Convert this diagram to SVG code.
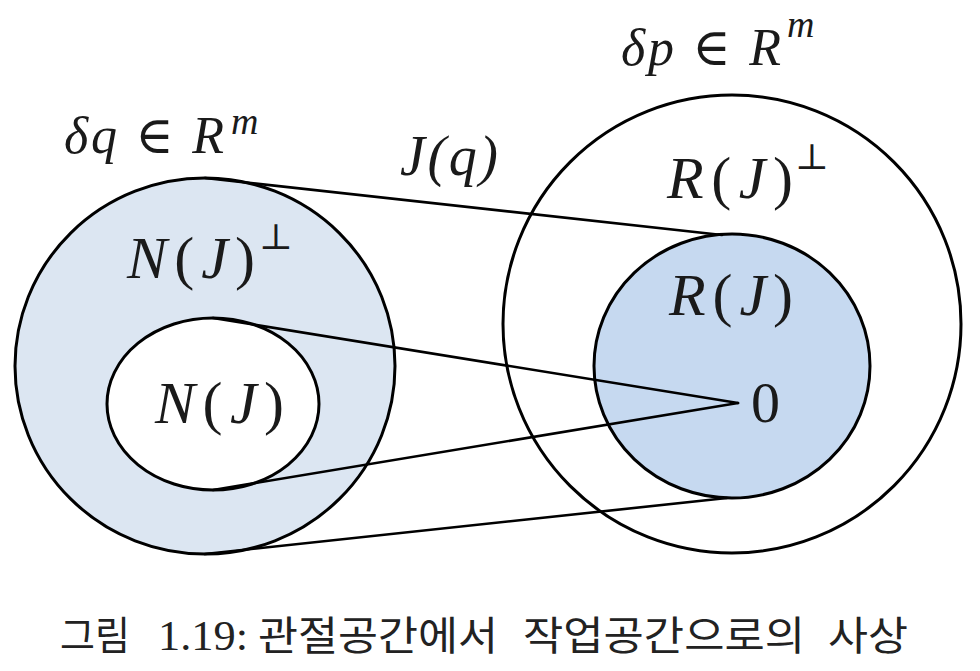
<svg xmlns="http://www.w3.org/2000/svg" width="980" height="671" viewBox="0 0 980 671">
<style>
.shape{stroke:#000;stroke-width:3}
.ln{stroke:#000;stroke-width:2.6;fill:none;stroke-linecap:round}
.m{font-family:"Liberation Serif","DejaVu Serif",serif;fill:#1a1a1a}
.i{font-style:italic}
.perp{font-family:"DejaVu Serif",serif;font-size:36px;fill:#1a1a1a}
.cap{font-family:"Noto Sans CJK KR","Noto Sans",sans-serif;font-size:40px;fill:#222}
.capn{font-family:"Liberation Serif",serif;font-size:42px;fill:#222}
</style>
<rect width="980" height="671" fill="#fff"/>
<g id="joint-space">
  <ellipse class="shape" cx="205" cy="366" rx="190" ry="188" fill="#dce6f2"/>
  <text class="m" font-size="52" x="64" y="153" textLength="160" lengthAdjust="spacing"><tspan class="i">δq</tspan> ∈ <tspan class="i">R</tspan></text>
  <text class="m i" font-size="38" x="231" y="134">m</text>
  <text class="m i" font-size="60" x="127" y="278" textLength="128" lengthAdjust="spacing">N<tspan font-style="normal">(</tspan>J<tspan font-style="normal">)</tspan></text>
  <text class="perp" x="259" y="249">⊥</text>
</g>
<g id="null-space">
  <ellipse class="shape" cx="213" cy="404" rx="106" ry="86" fill="#fff"/>
  <text class="m i" font-size="60" x="155" y="423" textLength="129" lengthAdjust="spacing">N<tspan font-style="normal">(</tspan>J<tspan font-style="normal">)</tspan></text>
</g>
<g id="task-space">
  <ellipse class="shape" cx="732" cy="324" rx="229" ry="229" fill="#fff"/>
  <text class="m" font-size="52" x="621" y="65" textLength="160" lengthAdjust="spacing"><tspan class="i">δp</tspan> ∈ <tspan class="i">R</tspan></text>
  <text class="m i" font-size="38" x="787" y="37">m</text>
  <text class="m i" font-size="60" x="667" y="198" textLength="126" lengthAdjust="spacing">R<tspan font-style="normal">(</tspan>J<tspan font-style="normal">)</tspan></text>
  <text class="perp" x="795" y="169">⊥</text>
</g>
<g id="range-space">
  <ellipse class="shape" cx="732" cy="366" rx="138" ry="132" fill="#c6d9f0"/>
  <text class="m i" font-size="60" x="669" y="315" textLength="124" lengthAdjust="spacing">R<tspan font-style="normal">(</tspan>J<tspan font-style="normal">)</tspan></text>
  <text class="m" font-size="58" x="751" y="422">0</text>
</g>
<g id="connectors">
  <line class="ln" x1="205" y1="178" x2="722" y2="235"/>
  <line class="ln" x1="205" y1="554" x2="727" y2="498"/>
  <line class="ln" x1="213" y1="318" x2="738" y2="403"/>
  <line class="ln" x1="213" y1="490" x2="738" y2="403"/>
</g>
<g id="map-label">
  <text class="m i" font-size="56" x="400" y="175" textLength="98" lengthAdjust="spacing">J(q)</text>
</g>
<g id="caption">
  <text class="cap" x="60" y="650" textLength="70" lengthAdjust="spacingAndGlyphs">그림</text>
  <text class="capn" x="158" y="650" textLength="90" lengthAdjust="spacingAndGlyphs">1.19:</text>
  <text class="cap" x="258" y="650" textLength="240" lengthAdjust="spacingAndGlyphs">관절공간에서</text>
  <text class="cap" x="523" y="650" textLength="282" lengthAdjust="spacingAndGlyphs">작업공간으로의</text>
  <text class="cap" x="828" y="650" textLength="80" lengthAdjust="spacingAndGlyphs">사상</text>
</g>
</svg>
